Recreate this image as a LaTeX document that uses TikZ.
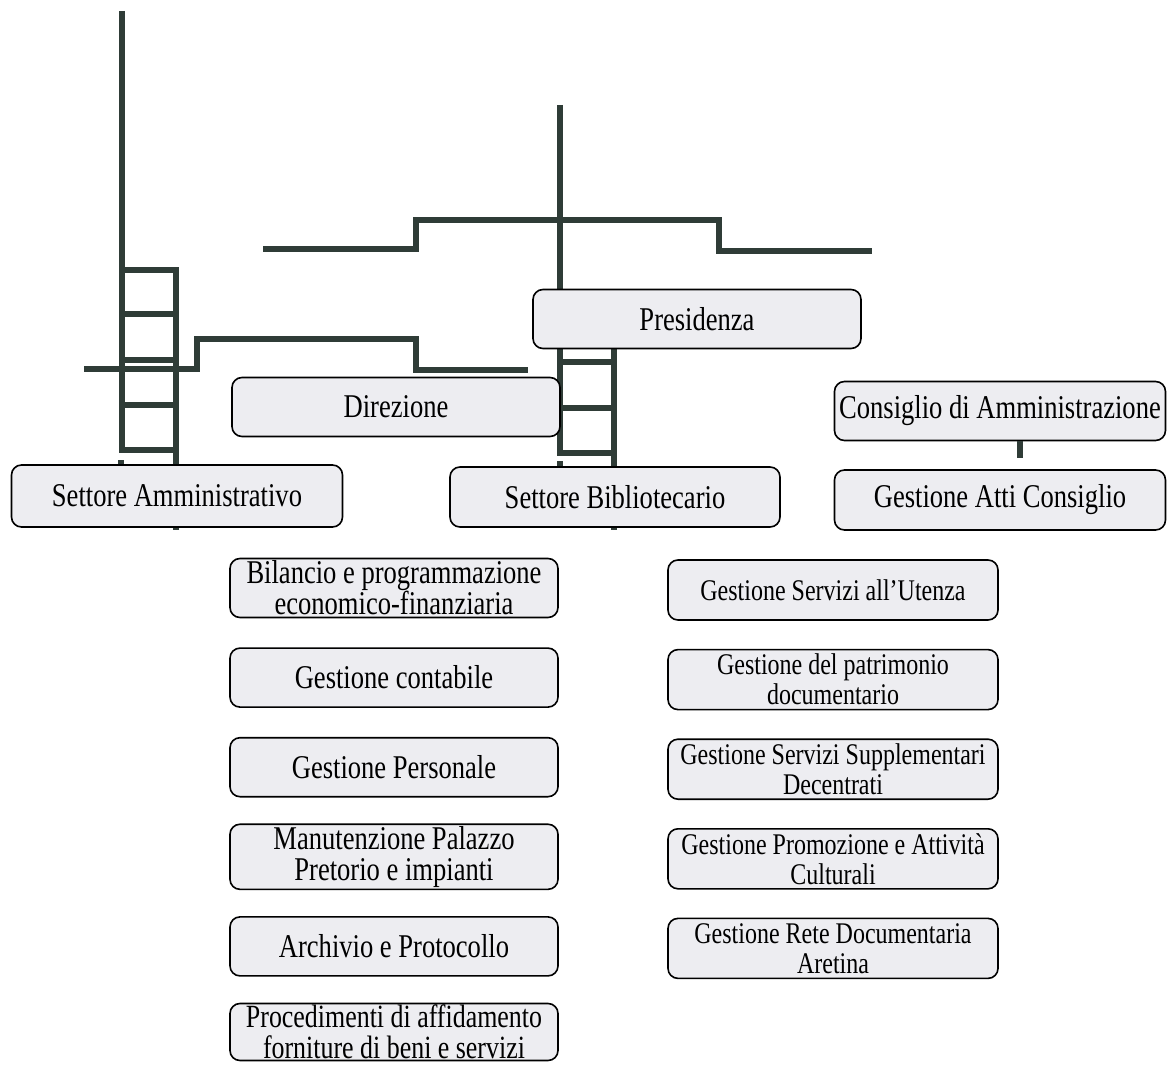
\documentclass[tikz,border=0pt]{standalone}
\usepackage{fontspec}
\setmainfont{Liberation Serif}[FakeStretch=0.8]
\usepackage{tikz}

\definecolor{boxfill}{HTML}{EDEDF1}
\definecolor{barcol}{HTML}{2F3C37}

\tikzset{
  ladder/.style={draw=barcol, line width=2.8pt},
  office/.style={draw=black, line width=0.8pt, fill=boxfill, rounded corners=5pt,
    minimum width=164pt, minimum height=29.5pt, inner sep=1pt, align=center,
    font=\fontsize{16.6}{15.5}\selectfont},
  unitL/.style={office},
  unitR/.style={office, minimum width=165pt, minimum height=30pt,
    font=\fontsize{15}{15}\selectfont}
}

\begin{document}
\begin{tikzpicture}[x=0.5pt,y=-0.5pt,node distance=44.8pt]
\useasboundingbox (0,0) rectangle (1168,1065);

% ladders behind the boxes
\draw[ladder] (122,11) -- (122,450) -- (176,450);
\draw[ladder] (122,270) -- (176,270) -- (176,530);
\foreach \y in {314,360,405} \draw[ladder] (122,\y) -- (176,\y);
\draw[ladder] (121,460) -- (121,470);
\draw[ladder] (84,369) -- (197,369) -- (197,339) -- (416,339) -- (416,370) -- (528,370);

\draw[ladder] (560,105) -- (560,453) -- (614,453);
\draw[ladder] (614,345) -- (614,530);
\foreach \y in {362,408} \draw[ladder] (560,\y) -- (614,\y);
\draw[ladder] (560,461) -- (560,470);
\draw[ladder] (263,249) -- (416,249) -- (416,220) -- (719,220) -- (719,251) -- (872,251);

% top level
\node[office] (pres) at (697,319) {Presidenza};
\node[office] (dir)  at (396,407) {Direzione};
\node[office, minimum width=165.5pt, minimum height=31pt] (amm) at (177,496) {Settore Amministrativo};
\node[office, minimum width=165pt, minimum height=30pt] (bib) at (615,497) {Settore Bibliotecario};
\node[office, minimum width=165.5pt] (cda) at (1000,411) {Consiglio di Amministrazione};
\node[office, minimum width=165.5pt, minimum height=30pt] (atti) at (1000,500) {Gestione Atti Consiglio};

\coordinate (cdaStub) at (1020,458);
\draw[ladder] (cdaStub |- cda.south) -- (cdaStub);

% settore amministrativo
\node[unitL] (A1) at (394,588) {Bilancio e programmazione\\economico-finanziaria};
\node[unitL] (A2) [below of=A1] {Gestione contabile};
\node[unitL] (A3) [below of=A2] {Gestione Personale};
\node[unitL] (A4) [below of=A3] {Manutenzione Palazzo\\Pretorio e impianti};
\node[unitL] (A5) [below of=A4] {Archivio e Protocollo};
\node[unitL, inner ysep=0pt, minimum height=28.5pt, font=\fontsize{16.2}{15.3}\selectfont] (A6) at (394,1032) {Procedimenti di affidamento\\forniture di beni e servizi};

% settore bibliotecario
\node[unitR] (B1) at (833,590) {Gestione Servizi all’Utenza};
\node[unitR] (B2) [below of=B1] {Gestione del patrimonio\\documentario};
\node[unitR] (B3) [below of=B2] {Gestione Servizi Supplementari\\Decentrati};
\node[unitR] (B4) [below of=B3] {Gestione Promozione e Attività\\Culturali};
\node[unitR] (B5) [below of=B4] {Gestione Rete Documentaria\\Aretina};
\end{tikzpicture}
\end{document}
